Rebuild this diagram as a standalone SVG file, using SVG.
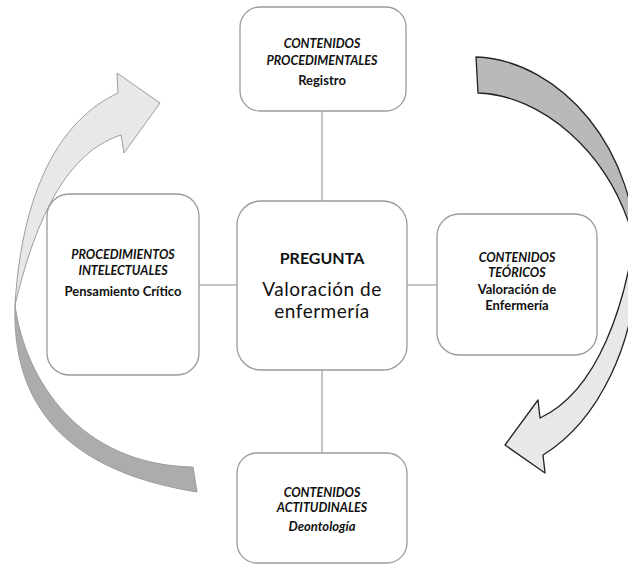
<svg xmlns="http://www.w3.org/2000/svg" width="628" height="565" viewBox="0 0 628 565">
<style>
.box{fill:#fff;stroke:#9a9a9a;stroke-width:1.3}
.t{font-family:Lato,"Open Sans","Liberation Sans",sans-serif;fill:#111;text-anchor:middle}
.h{font-size:12.5px;font-weight:bold;font-style:italic}
.s{font-size:13px;font-weight:bold}
.conn line{stroke:#8a8a8a;stroke-width:1}
.la{stroke:#9c9c9c;stroke-width:1;stroke-linejoin:round}
.ra{stroke:#222;stroke-width:1.3;stroke-linejoin:round}
</style>
<rect width="628" height="565" fill="#fff"/>
<g id="arrow-left">
<path class="la" fill="#acacac" d="M15,305 C12,400 60,470 197,492 L193,467 C80,465 25,380 15,305 Z"/>
<path class="la" fill="#e8e8e8" d="M15,305 C22,190 60,120 118,93 L117,73 L160,103 L124,153 L121,135 C75,150 40,200 15,305 Z"/>
</g>
<g id="arrow-right">
<path class="ra" fill="#bab8b8" d="M476,57 C560,60 640,150 636,265 L634,240 C610,150 540,95 478,93 Z"/>
<path class="ra" fill="#e8e8e8" d="M636,265 C636,340 600,420 543,455 L545,473 L505,445 L538,400 L540,418 C600,390 625,300 634,240 Z"/>
</g>
<g id="connectors" class="conn">
<line x1="322" y1="111" x2="322" y2="201"/>
<line x1="322" y1="370" x2="322" y2="453"/>
<line x1="199" y1="285" x2="237" y2="285"/>
<line x1="407" y1="285" x2="437" y2="285"/>
</g>
<g id="node-top">
<rect class="box" x="240" y="7" width="166" height="104" rx="20"/>
<text class="t h" x="322" y="48">CONTENIDOS</text>
<text class="t h" x="322" y="65">PROCEDIMENTALES</text>
<text class="t s" x="322" y="85">Registro</text>
</g>
<g id="node-center">
<rect class="box" x="237" y="201" width="170" height="169" rx="24"/>
<text class="t" x="322" y="264" font-size="16" font-weight="bold">PREGUNTA</text>
<text class="t" x="322" y="296" font-size="19" letter-spacing="0.5">Valoración de</text>
<text class="t" x="322" y="318" font-size="19" letter-spacing="0.5">enfermería</text>
</g>
<g id="node-left">
<rect class="box" x="47" y="194" width="152" height="181" rx="22"/>
<text class="t h" x="123" y="259">PROCEDIMIENTOS</text>
<text class="t h" x="123" y="275">INTELECTUALES</text>
<text class="t s" x="123" y="296">Pensamiento Crítico</text>
</g>
<g id="node-right">
<rect class="box" x="437" y="214" width="160" height="141" rx="22"/>
<text class="t h" x="517" y="262">CONTENIDOS</text>
<text class="t h" x="517" y="277">TEÓRICOS</text>
<text class="t s" x="517" y="294">Valoración de</text>
<text class="t s" x="517" y="310">Enfermería</text>
</g>
<g id="node-bottom">
<rect class="box" x="237" y="453" width="170" height="110" rx="20"/>
<text class="t h" x="322" y="497">CONTENIDOS</text>
<text class="t h" x="322" y="512">ACTITUDINALES</text>
<text class="t" x="322" y="531" font-size="13" font-weight="bold" font-style="italic">Deontología</text>
</g>
</svg>
